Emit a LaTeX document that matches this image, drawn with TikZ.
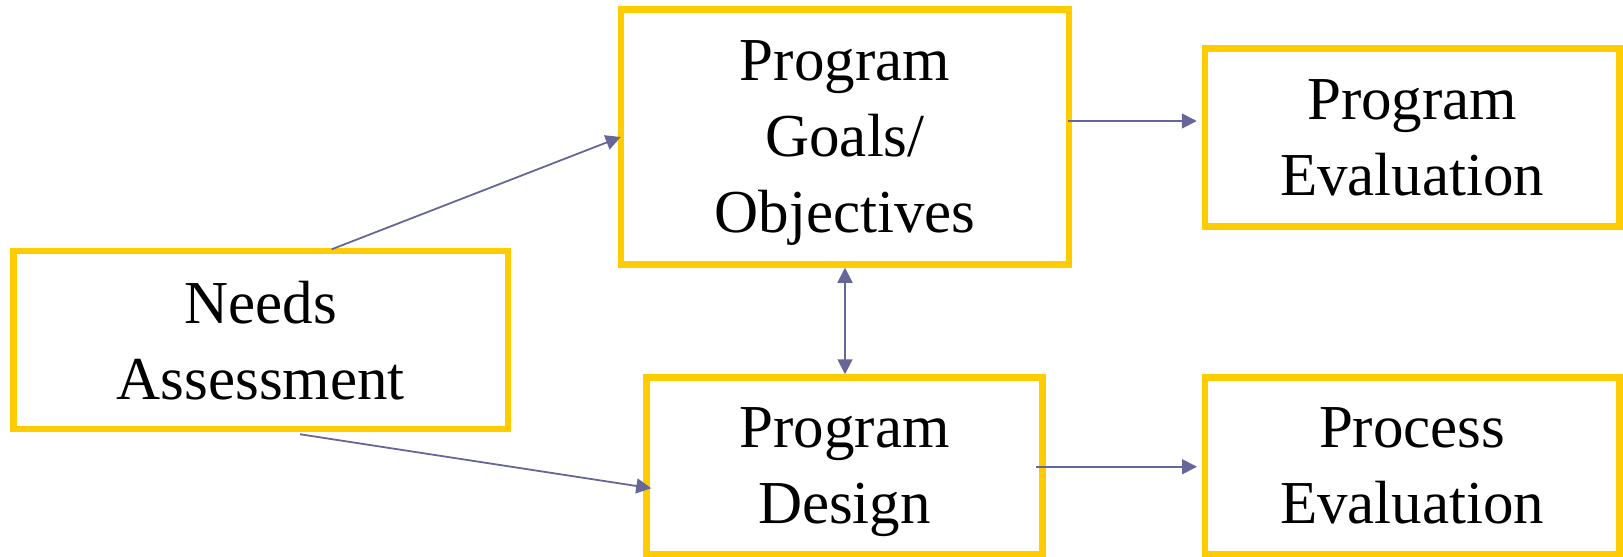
\documentclass[tikz,border=0pt]{standalone}
\usepackage{fontspec}
\setmainfont{Liberation Serif}
\usetikzlibrary{arrows.meta}
\definecolor{boxgold}{HTML}{FFCC00}
\definecolor{arrowblue}{HTML}{666699}
\tikzset{
  box/.style={draw=boxgold, line width=6.5pt, rectangle, inner sep=0pt,
    align=center, text depth=0pt, font=\fontsize{61}{76}\selectfont},
  arr/.style={draw=arrowblue, line width=1.8pt,
    -{Triangle[length=15pt,width=15pt]}},
  darr/.style={draw=arrowblue, line width=1.8pt,
    {Triangle[length=15pt,width=15pt]}-{Triangle[length=15pt,width=15pt]}}
}
\begin{document}
\begin{tikzpicture}[x=1pt,y=1pt]
\useasboundingbox (0,0) rectangle (1623,-557);
\node[box, minimum width=494.5pt, minimum height=178pt] (needs) at (260.75,-340) {Needs\\Assessment};
\node[box, minimum width=448pt, minimum height=255pt] (goals) at (845,-137) {Program\\Goals/\\Objectives};
\node[box, minimum width=414.5pt, minimum height=178pt] (peval) at (1412.25,-137.5) {Program\\Evaluation};
\node[box, minimum width=396pt, minimum height=176.5pt] (design) at (844.5,-465.75) {Program\\Design};
\node[box, minimum width=414.5pt, minimum height=176.5pt] (proc) at (1412.25,-465.75) {Process\\Evaluation};

\draw[arr] ([xshift=321.5pt,yshift=-1.5pt]needs.north west) -- ([xshift=3pt]goals.west);
\draw[arr] ([xshift=289.75pt,yshift=-2pt]needs.south west) -- ([xshift=8pt,yshift=-22.5pt]design.west);
\draw[arr] ([xshift=-4pt,yshift=16pt]goals.east) -- ([xshift=-5pt,yshift=16.5pt]peval.west);
\draw[arr] ([xshift=-9.75pt,yshift=-1pt]design.east) -- ([xshift=-4.75pt,yshift=-1pt]proc.west);
\draw[darr] (goals.south) -- (goals.south |- design.north);
\end{tikzpicture}
\end{document}
